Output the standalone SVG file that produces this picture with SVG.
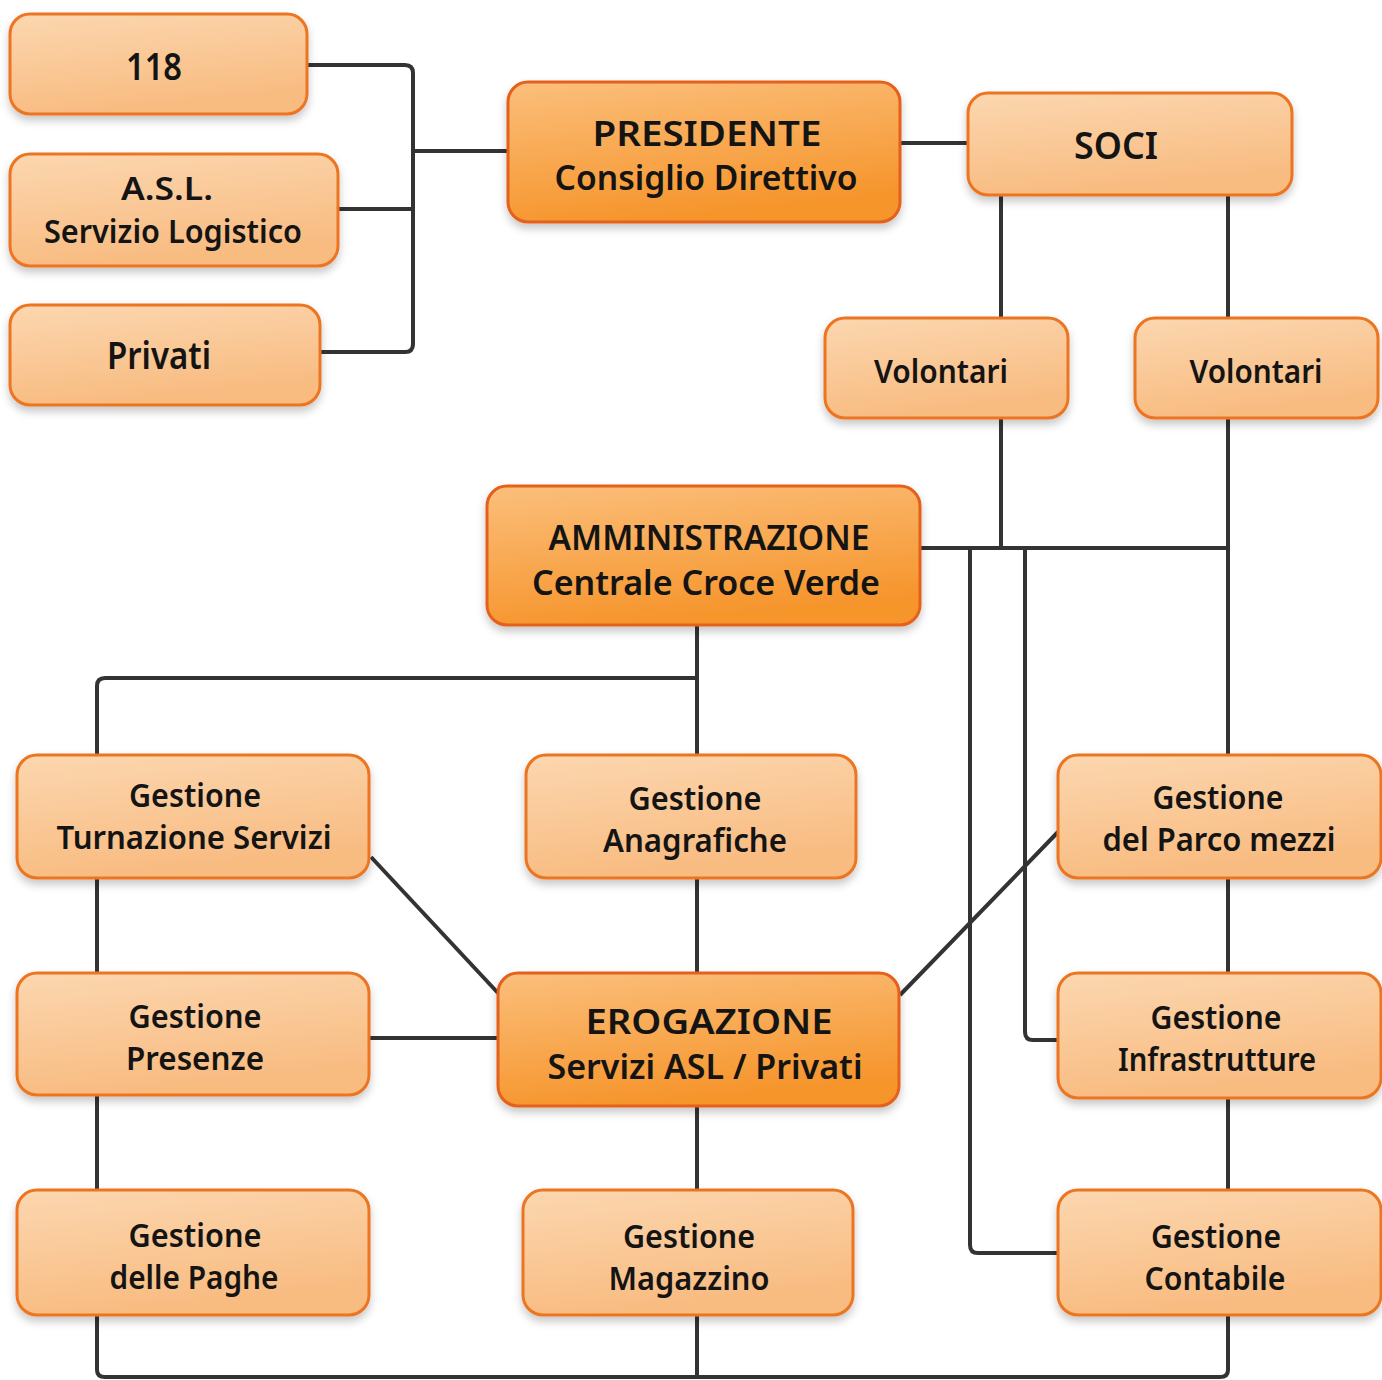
<svg xmlns="http://www.w3.org/2000/svg" width="1382" height="1380" viewBox="0 0 1382 1380">
<defs>
<linearGradient id="gl" x1="0" y1="0" x2="0.3" y2="1">
<stop offset="0" stop-color="#fcd7b0"/>
<stop offset="1" stop-color="#f8bb80"/>
</linearGradient>
<linearGradient id="gd" x1="0" y1="0" x2="0.3" y2="1">
<stop offset="0" stop-color="#fbbf7c"/>
<stop offset="1" stop-color="#f6952c"/>
</linearGradient>
<filter id="sh" x="-10%" y="-10%" width="120%" height="140%">
<feDropShadow dx="0" dy="5" stdDeviation="4" flood-color="#000" flood-opacity="0.22"/>
</filter>
</defs>
<style>
.l{fill:url(#gl);stroke:#ec7420;stroke-width:3;filter:url(#sh)}
.d{fill:url(#gd);stroke:#e4601a;stroke-width:3;filter:url(#sh)}
text{font-family:"Noto Sans","DejaVu Sans",sans-serif;font-weight:600;fill:#141414;text-anchor:middle}
.t{font-size:37px}
.t2{font-size:33px}
.g{font-size:33px}
.b{font-size:34px}
.c{fill:none;stroke:#333;stroke-width:4;stroke-linejoin:round}
</style>
<rect width="1382" height="1380" fill="#fff"/>
<g id="connectors" class="c">
<path d="M307,65 H405 Q413,65 413,73 V344 Q413,352 405,352 H320"/>
<path d="M338,209 H413"/>
<path d="M413,151 H508"/>
<path d="M900,143 H968"/>
<path d="M1001,195 V318"/>
<path d="M1228,195 V318"/>
<path d="M1001,418 V548"/>
<path d="M1228,418 V755"/>
<path d="M920,548 H1228"/>
<path d="M970,548 V1245 Q970,1253 978,1253 H1058"/>
<path d="M1025,548 V1032 Q1025,1040 1033,1040 H1058"/>
<path d="M697,625 V755"/>
<path d="M697,678 H105 Q97,678 97,686 V755"/>
<path d="M97,878 V973"/>
<path d="M97,1095 V1190"/>
<path d="M97,1315 V1370 Q97,1377 105,1377 H1220 Q1228,1377 1228,1370 V1315"/>
<path d="M697,1315 V1377"/>
<path d="M697,878 V973"/>
<path d="M697,1106 V1190"/>
<path d="M369,1038 H498"/>
<path d="M371,857 L498,993"/>
<path d="M900,995 L1058,832"/>
<path d="M1228,878 V973"/>
<path d="M1228,1098 V1190"/>
</g>
<g id="n118"><rect class="l" x="10" y="14" width="297" height="100" rx="20"/><text class="t" x="154" y="80" textLength="56" lengthAdjust="spacingAndGlyphs">118</text></g>
<g id="nasl"><rect class="l" x="10" y="154" width="328" height="112" rx="20"/><text class="t2" x="167" y="200" textLength="92" lengthAdjust="spacingAndGlyphs">A.S.L.</text><text class="t2" x="173" y="243" textLength="258" lengthAdjust="spacingAndGlyphs">Servizio Logistico</text></g>
<g id="nprivati"><rect class="l" x="10" y="305" width="310" height="100" rx="20"/><text class="t" x="159" y="369" textLength="104" lengthAdjust="spacingAndGlyphs">Privati</text></g>
<g id="npresidente"><rect class="d" x="508" y="82" width="392" height="140" rx="20"/><text class="b" x="707" y="146" textLength="229" lengthAdjust="spacingAndGlyphs">PRESIDENTE</text><text class="b" x="706" y="190" textLength="303" lengthAdjust="spacingAndGlyphs">Consiglio Direttivo</text></g>
<g id="nsoci"><rect class="l" x="968" y="93" width="324" height="102" rx="20"/><text class="t" x="1116" y="159" textLength="84" lengthAdjust="spacingAndGlyphs">SOCI</text></g>
<g id="nvol1"><rect class="l" x="825" y="318" width="243" height="100" rx="20"/><text class="g" x="941" y="383" textLength="134" lengthAdjust="spacingAndGlyphs">Volontari</text></g>
<g id="nvol2"><rect class="l" x="1135" y="318" width="243" height="100" rx="20"/><text class="g" x="1256" y="383" textLength="133" lengthAdjust="spacingAndGlyphs">Volontari</text></g>
<g id="namm"><rect class="d" x="487" y="486" width="433" height="139" rx="20"/><text class="b" x="709" y="550" textLength="321" lengthAdjust="spacingAndGlyphs">AMMINISTRAZIONE</text><text class="b" x="706" y="595" textLength="348" lengthAdjust="spacingAndGlyphs">Centrale Croce Verde</text></g>
<g id="nturn"><rect class="l" x="17" y="755" width="352" height="123" rx="20"/><text class="g" x="195" y="807" textLength="132" lengthAdjust="spacingAndGlyphs">Gestione</text><text class="g" x="194" y="849" textLength="275" lengthAdjust="spacingAndGlyphs">Turnazione Servizi</text></g>
<g id="nanag"><rect class="l" x="526" y="755" width="330" height="123" rx="20"/><text class="g" x="695" y="810" textLength="133" lengthAdjust="spacingAndGlyphs">Gestione</text><text class="g" x="695" y="852" textLength="184" lengthAdjust="spacingAndGlyphs">Anagrafiche</text></g>
<g id="nparco"><rect class="l" x="1058" y="755" width="323" height="123" rx="20"/><text class="g" x="1218" y="809" textLength="131" lengthAdjust="spacingAndGlyphs">Gestione</text><text class="g" x="1219" y="851" textLength="233" lengthAdjust="spacingAndGlyphs">del Parco mezzi</text></g>
<g id="npres"><rect class="l" x="17" y="973" width="352" height="122" rx="20"/><text class="g" x="195" y="1028" textLength="133" lengthAdjust="spacingAndGlyphs">Gestione</text><text class="g" x="195" y="1070" textLength="138" lengthAdjust="spacingAndGlyphs">Presenze</text></g>
<g id="nerog"><rect class="d" x="498" y="973" width="401" height="133" rx="20"/><text class="b" x="709" y="1034" textLength="247" lengthAdjust="spacingAndGlyphs">EROGAZIONE</text><text class="b" x="705" y="1079" textLength="315" lengthAdjust="spacingAndGlyphs">Servizi ASL / Privati</text></g>
<g id="ninfra"><rect class="l" x="1058" y="973" width="323" height="125" rx="20"/><text class="g" x="1216" y="1029" textLength="131" lengthAdjust="spacingAndGlyphs">Gestione</text><text class="g" x="1217" y="1071" textLength="198" lengthAdjust="spacingAndGlyphs">Infrastrutture</text></g>
<g id="npaghe"><rect class="l" x="17" y="1190" width="352" height="125" rx="20"/><text class="g" x="195" y="1247" textLength="133" lengthAdjust="spacingAndGlyphs">Gestione</text><text class="g" x="194" y="1289" textLength="169" lengthAdjust="spacingAndGlyphs">delle Paghe</text></g>
<g id="nmag"><rect class="l" x="523" y="1190" width="330" height="125" rx="20"/><text class="g" x="689" y="1248" textLength="132" lengthAdjust="spacingAndGlyphs">Gestione</text><text class="g" x="689" y="1290" textLength="161" lengthAdjust="spacingAndGlyphs">Magazzino</text></g>
<g id="ncont"><rect class="l" x="1058" y="1190" width="323" height="125" rx="20"/><text class="g" x="1216" y="1248" textLength="130" lengthAdjust="spacingAndGlyphs">Gestione</text><text class="g" x="1215" y="1290" textLength="141" lengthAdjust="spacingAndGlyphs">Contabile</text></g>
</svg>
